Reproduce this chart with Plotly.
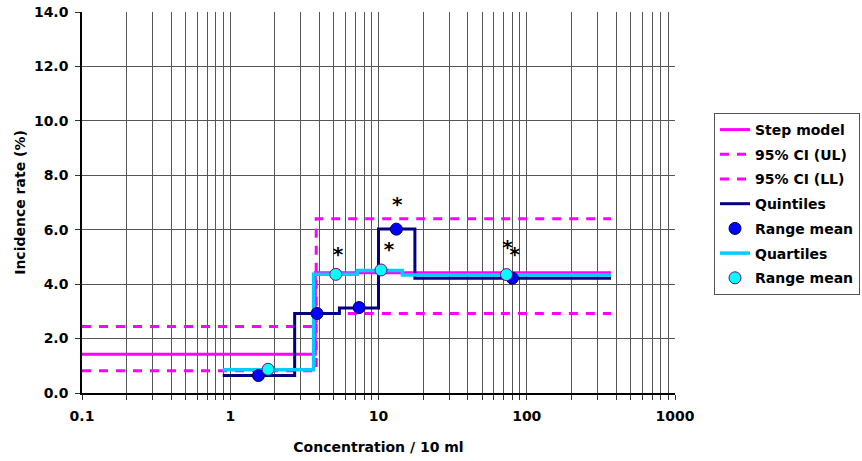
import plotly.graph_objects as go

# ---- data ----
step_bounds = [0.1, 3.75, 370]
step_levels = [1.42, 4.42]

ci_ul_bounds = [0.1, 3.8, 370]
ci_ul_levels = [2.44, 6.40]

ci_ll_bounds = [0.1, 3.8, 370]
ci_ll_levels = [0.82, 2.92]

quint_bounds = [0.89, 2.72, 5.45, 10.0, 17.6, 370]
quint_levels = [0.64, 2.92, 3.12, 6.03, 4.22]

quint_mean_x = [1.55, 3.85, 7.4, 13.2, 80]
quint_mean_y = [0.64, 2.92, 3.14, 6.02, 4.22]

quart_bounds = [0.89, 3.65, 7.2, 14.5, 370]
quart_levels = [0.85, 4.36, 4.50, 4.34]

quart_mean_x = [1.8, 5.15, 10.4, 73]
quart_mean_y = [0.87, 4.36, 4.52, 4.35]

star_x = [5.33, 11.75, 13.4, 74, 83]
star_y = [5.04, 5.22, 6.87, 5.28, 5.04]

x_tick_labels = ["0.1", "1", "10", "100", "1000"]

FONT = "DejaVu Sans"

W, H = 862, 461
L, R, T, B = 82, 187, 12, 68
PW, PH = W - L - R, H - T - B


def step_xy(bounds, levels):
    return list(bounds), list(levels) + [levels[-1]]


fig = go.Figure()

x, y = step_xy(step_bounds, step_levels)
fig.add_trace(go.Scatter(x=x, y=y, mode="lines", line_shape="hv",
                         line=dict(color="#FF00FF", width=3),
                         name="Step model", legendrank=1, legendgroup="g1"))
x, y = step_xy(ci_ul_bounds, ci_ul_levels)
fig.add_trace(go.Scatter(x=x, y=y, mode="lines", line_shape="hv",
                         line=dict(color="#FF00FF", width=3, dash="9px,8px"),
                         name="95% CI (UL)", legendrank=2, legendgroup="g2"))
x, y = step_xy(ci_ll_bounds, ci_ll_levels)
fig.add_trace(go.Scatter(x=x, y=y, mode="lines", line_shape="hv",
                         line=dict(color="#FF00FF", width=3, dash="9px,8px"),
                         name="95% CI (LL)", legendrank=3, legendgroup="g3"))
x, y = step_xy(quint_bounds, quint_levels)
fig.add_trace(go.Scatter(x=x, y=y, mode="lines", line_shape="hv",
                         line=dict(color="#000080", width=3),
                         name="Quintiles", legendrank=4, legendgroup="g4"))
x, y = step_xy(quart_bounds, quart_levels)
fig.add_trace(go.Scatter(x=x, y=y, mode="lines", line_shape="hv",
                         line=dict(color="#00CCFF", width=3.5),
                         name="Quartiles", legendrank=6, legendgroup="g6"))
fig.add_trace(go.Scatter(x=quint_mean_x, y=quint_mean_y, mode="markers",
                         marker=dict(color="#0000FF", size=12,
                                     line=dict(color="#000040", width=1)),
                         name="Range mean", legendrank=5, legendgroup="g5"))
fig.add_trace(go.Scatter(x=quart_mean_x, y=quart_mean_y, mode="markers",
                         marker=dict(color="#00FFFF", size=12,
                                     line=dict(color="#800080", width=1)),
                         name="Range mean", legendrank=7, legendgroup="g7"))
fig.add_trace(go.Scatter(x=star_x, y=star_y, mode="text", text=["*"] * len(star_x),
                         textposition="middle center",
                         textfont=dict(family=FONT, size=20, color="black", weight="bold"),
                         showlegend=False, hoverinfo="skip"))

tickvals = []
ticktext = []
for p, lab in zip([0.1, 1, 10, 100], x_tick_labels[:-1]):
    for m in range(1, 10):
        tickvals.append(p * m)
        ticktext.append(lab if m == 1 else "")
tickvals.append(1000)
ticktext.append(x_tick_labels[-1])

fig.update_layout(
    width=W, height=H,
    margin=dict(l=L, r=R, t=T, b=B, autoexpand=False),
    paper_bgcolor="white", plot_bgcolor="white",
    font=dict(family=FONT, size=14, color="black", weight="bold"),
    showlegend=True,
    legend=dict(x=(860 - L) / PW, y=(PH + T - 113) / PH, xanchor="right", yanchor="top",
                bordercolor="#555", borderwidth=1, bgcolor="white",
                font=dict(family=FONT, size=14, color="black", weight="bold"),
                itemwidth=30, traceorder="grouped", tracegroupgap=3.5),
    xaxis=dict(type="log", range=[-1, 3], tickvals=tickvals, ticktext=ticktext,
               showgrid=True, gridcolor="#555", gridwidth=1,
               ticks="outside", ticklen=5, tickcolor="#333",
               ticklabelstandoff=4,
               showline=True, linecolor="black", linewidth=1.5,
               zeroline=False, automargin=False,
               title=dict(text="Concentration / 10 ml", standoff=20,
                          font=dict(family=FONT, size=14, weight="bold"))),
    yaxis=dict(range=[0, 14], dtick=2, tickformat=".1f",
               showgrid=True, gridcolor="#555", gridwidth=1,
               ticks="outside", ticklen=5, tickcolor="#333",
               ticklabelstandoff=4,
               showline=True, linecolor="black", linewidth=1.5,
               zeroline=False, automargin=False,
               title=dict(text="Incidence rate (%)", standoff=5,
                          font=dict(family=FONT, size=14, weight="bold"))),
)

fig.write_html("out.html",
               config={"displayModeBar": False},
               post_script="document.body.style.margin='0';")
